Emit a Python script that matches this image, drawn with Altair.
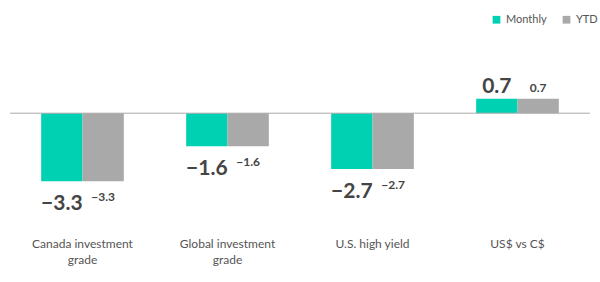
import altair as alt
import pandas as pd

categories = ["Canada investment grade", "Global investment grade", "U.S. high yield", "US$ vs C$"]
labels = ["Canada investment|grade", "Global investment|grade", "U.S. high yield", "US$ vs C$"]
monthly = [-3.3, -1.6, -2.7, 0.7]
ytd = [-3.3, -1.6, -2.7, 0.7]
series = ["Monthly", "YTD"]
colors = ["#00D1B2", "#A9A9A9"]

rows = []
for c, m, y in zip(categories, monthly, ytd):
    rows.append({"category": c, "series": "Monthly", "value": m})
    rows.append({"category": c, "series": "YTD", "value": y})
df = pd.DataFrame(rows)
lab_df = pd.DataFrame({"category": categories, "label": labels})

FONT = "Lato"
W, H = 580, 165

xenc = alt.X("category:N", sort=categories, axis=None,
             scale=alt.Scale(paddingInner=0.43, paddingOuter=0.215))
yscale = alt.Scale(domain=[-4.5, 3.5], nice=False, zero=False)
xoff = alt.XOffset("series:N", sort=series)

base = alt.Chart(df).encode(x=xenc, xOffset=xoff)

bars = base.mark_bar().encode(
    y=alt.Y("value:Q", scale=yscale, axis=None),
    y2=alt.datum(0),
    color=alt.Color("series:N", sort=series,
                    scale=alt.Scale(domain=series, range=colors),
                    legend=alt.Legend(title=None, orient="none", direction="horizontal",
                                      legendX=481, legendY=-27, symbolType="square",
                                      symbolSize=60, symbolStrokeWidth=0,
                                      labelFont=FONT, labelFontSize=11, labelColor="#555",
                                      columnPadding=14, labelOffset=4)),
)

rule = alt.Chart(pd.DataFrame({"v": [0]})).mark_rule(color="#AAAAAA", strokeWidth=1).encode(
    y=alt.Y("v:Q", scale=yscale), x=alt.value(0), x2=alt.value(W))

def txt(s, sign, size, bold, dy):
    cond = "datum.value < 0" if sign < 0 else "datum.value >= 0"
    return (alt.Chart(df).transform_filter(f"datum.series == '{s}'").transform_filter(cond)
            .mark_text(font=FONT, fontSize=size, fontWeight="bold" if bold else "normal",
                       color="#444" if bold else "#555",
                       baseline="top" if sign < 0 else "alphabetic", dy=dy)
            .encode(x=xenc, xOffset=xoff,
                    y=alt.Y("value:Q", scale=yscale),
                    text=alt.Text("value:Q", format=".1f")))

t1 = txt("Monthly", -1, 21, True, 12)
t2 = txt("YTD", -1, 12, True, 11)
t3 = txt("Monthly", 1, 21, True, -6)
t4 = txt("YTD", 1, 12, True, -7)

cat = alt.Chart(lab_df).mark_text(font=FONT, fontSize=12, color="#555", lineBreak="|",
                                  baseline="top", lineHeight=16).encode(
    x=alt.X("category:N", sort=categories, axis=None,
            scale=alt.Scale(paddingInner=0.43, paddingOuter=0.215)),
    y=alt.value(198), text="label:N")

chart = alt.layer(bars, rule, t1, t2, t3, t4, cat).properties(
    width=W, height=H,
    background="white",
    autosize=alt.AutoSizeParams(type="none"),
    padding={"left": 10, "top": 41, "right": 10, "bottom": 76},
).configure_view(stroke=None, strokeWidth=0)

chart.save("out.html", embed_options={"renderer": "svg", "actions": False})
